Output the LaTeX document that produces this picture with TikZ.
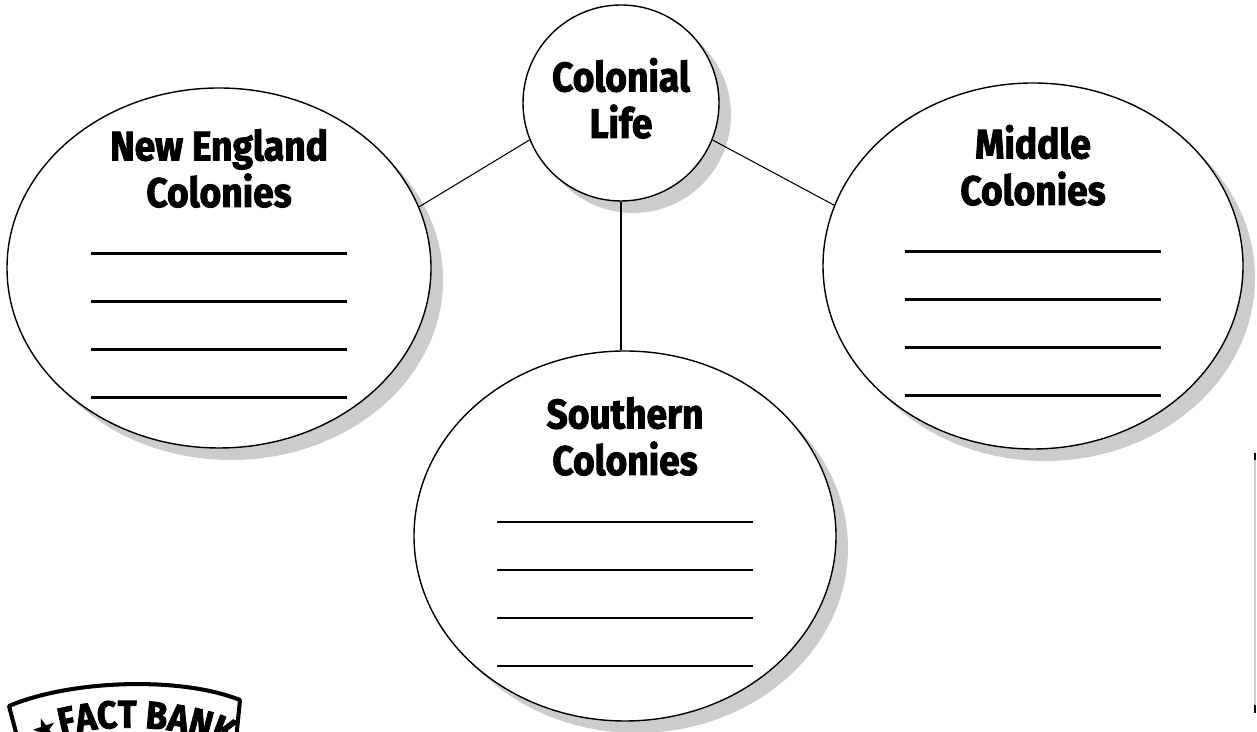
\documentclass[tikz,border=0pt]{standalone}
\usepackage{fontspec}
\usetikzlibrary{shapes.geometric,shadows,decorations.text}
\newfontfamily\headfont{Fira Sans}[FakeStretch=0.9, BoldFeatures={FakeBold=2.2}]
\newfontfamily\symfont{DejaVu Sans}

\begin{document}
\begin{tikzpicture}[
  bubble/.style = {ellipse, draw, line width = 0.8pt, fill = white, inner sep = 0pt,
    drop shadow = {opacity = 1, fill = gray!40, shadow xshift = .24cm, shadow yshift = -.24cm}},
  title/.style = {font = \headfont\bfseries\fontsize{23.5}{26.5}\selectfont, align = center, anchor = base},
  blank/.style = {line width = 1.7pt},
  link/.style = {line width = 0.6pt}]
\useasboundingbox (0,0) rectangle (25.14,14.64);

%bubbles
\node[bubble, circle, minimum size = 3.92cm] (life) at (12.42,12.58) {};
\node[bubble, minimum width = 8.48cm, minimum height = 7.2cm] (ne) at (4.38,9.28) {};
\node[bubble, minimum width = 8.4cm, minimum height = 7.32cm] (mid) at (20.66,9.32) {};
\node[bubble, minimum width = 8.44cm, minimum height = 7.4cm] (so) at (12.5,3.92) {};

%titles (base = last line)
\node[title] (lifetitle) at ([yshift = -.7cm]life.center) {Colonial\\Life};
\node[title] (netitle) at ([yshift = 1.22cm]ne.center) {New England\\Colonies};
\node[title] (midtitle) at ([yshift = 1.22cm]mid.center) {Middle\\Colonies};
\node[title] (sotitle) at ([yshift = 1.22cm]so.center) {Southern\\Colonies};

%blanks to write on
\foreach \b in {ne, mid, so} {
  \foreach \dy in {.28, -.68, -1.64, -2.6} {\draw[blank] ([xshift = -2.56cm, yshift = \dy cm]\b.center) -- ++(5.12,0);}
}

%connectors
\draw[link] (ne.17.6) -- (life.202.9);
\draw[link] (life.338) -- (mid.163);
\draw[link] (life.south) -- (life.south |- so.north);

%fact bank banner
\draw[line width = 2.3pt, line join = round] (0.36,-0.16) -- (0.18,0.52) .. controls (1.4,1.04) and (3.6,1.12) .. (4.8,0.64) -- (4.72,-0.16);
\path[decorate, decoration = {text along path, text align = center,
  text = {|\symfont\fontsize{17}{17}\selectfont|★|\headfont\bfseries\fontsize{22}{22}\selectfont|FACT BANK}}]
  (0.6,-0.3) .. controls (1.6,0.2) and (3.5,0.25) .. (4.7,-0.36);

%edge mark
\coordinate (mtop) at (25.1,5.58);
\coordinate (mbot) at (25.1,0.38);
\draw[gray!40, line width = 1.1pt] (mtop) -- (mbot);
\draw[line width = 1.1pt] (mtop) -- ++(0,-0.15);
\draw[line width = 1.1pt] (mbot) -- ++(0,0.16);
\end{tikzpicture}
\end{document}
